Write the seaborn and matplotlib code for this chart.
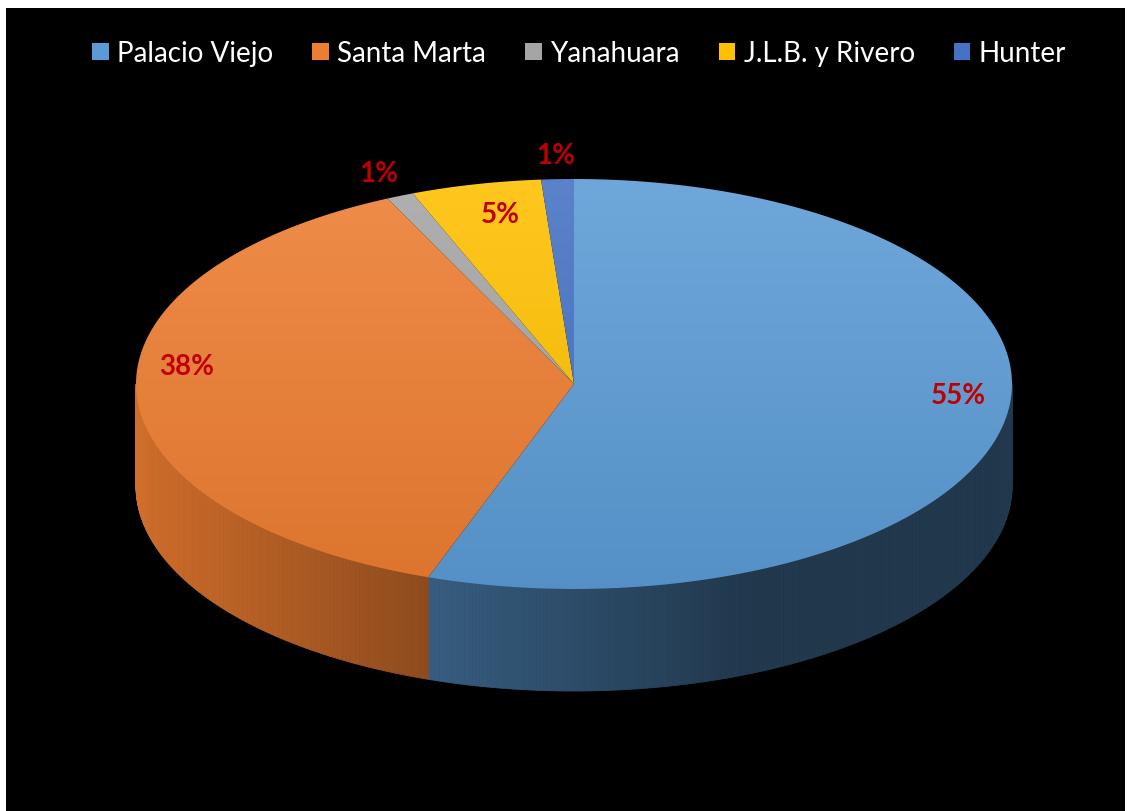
import numpy as np
import matplotlib
matplotlib.use("Agg")
import matplotlib.pyplot as plt
from matplotlib.patches import Polygon, Patch
import seaborn as sns

# Datos
distritos = ['Palacio Viejo', 'Santa Marta', 'Yanahuara', 'J.L.B. y Rivero', 'Hunter']
porcentajes = [55.4, 37.6, 1.0, 4.8, 1.2]
colores = ['#5B9BD5', '#ED7D31', '#A5A5A5', '#FFC000', '#4472C4']

sns.set_style("dark")
plt.rcParams['font.family'] = ['Lato', 'DejaVu Sans']
paleta = sns.color_palette(colores)

fig = plt.figure(figsize=(11.29, 8.12), dpi=100, facecolor='white')
ax = fig.add_axes([6 / 1129, 0, 1119 / 1129, 803 / 812])
ax.set_facecolor('black')
ax.set_xlim(6, 1125)
ax.set_ylim(812, 9)
ax.set_axis_off()
ax.add_patch(plt.Rectangle((6, 9), 1119, 803, color='black', zorder=0))

# geometria del pastel 3D
cx, cy, a, b, prof = 574, 385, 438, 205, 102


def punto(t, dy=0):
    t = np.radians(t)
    return cx + a * np.sin(t), cy - b * np.cos(t) + dy


def mezcla(c, f):
    c = np.array(c)
    if f >= 0:
        return c + (1 - c) * f
    return c * (1 + f)


total = sum(porcentajes)
angulos = np.concatenate([[0], np.cumsum(porcentajes) / total * 360])

# paredes laterales (solo la mitad frontal)
for i, col in enumerate(paleta):
    t0, t1 = max(angulos[i], 90), min(angulos[i + 1], 270)
    if t1 <= t0:
        continue
    ts = np.linspace(t0, t1, int((t1 - t0) * 2) + 2)
    for ta, tb in zip(ts[:-1], ts[1:]):
        u = np.sin(np.radians((ta + tb) / 2))
        f = np.interp(u, [-1, -0.33, 0.4, 1], [0.88, 0.6, 0.36, 0.36])
        c = np.array(col) * f
        xa, ya = punto(ta)
        xb, yb = punto(tb)
        quad = [(xa, ya), (xb, yb), (xb, yb + prof), (xa, ya + prof)]
        ax.add_patch(Polygon(quad, facecolor=c, edgecolor=c, lw=0.6, zorder=2))

# cara superior con degradado
for i, col in enumerate(paleta):
    ts = np.linspace(angulos[i], angulos[i + 1], 200)
    pts = [(cx, cy)] + [punto(t) for t in ts]
    poly = Polygon(pts, facecolor='none', edgecolor='none', zorder=3)
    ax.add_patch(poly)
    arriba, abajo = mezcla(col, 0.12), mezcla(col, -0.07)
    g = np.linspace(0, 1, 256)[:, None]
    img = (arriba[None, :] * (1 - g) + abajo[None, :] * g)[:, None, :]
    im = ax.imshow(img, extent=(cx - a, cx + a, cy + b, cy - b), origin='upper',
                   aspect='auto', zorder=3, interpolation='bilinear')
    im.set_clip_path(poly)

# etiquetas
radios = [0.89, 0.885, 1.12, 0.75, 1.12]
desplaz = [-20, -27, 0, -20, 0]
for i, p in enumerate(porcentajes):
    tm = (angulos[i] + angulos[i + 1]) / 2
    x, y = punto(tm)
    x = cx + (x - cx) * radios[i]
    y = cy + (y - cy) * radios[i] + desplaz[i]
    ax.text(x, y, f"{round(p)}%", color='#C00000', fontsize=20, fontweight='bold',
            ha='center', va='center', zorder=5)

ax.set_xlim(6, 1125)
ax.set_ylim(812, 9)

handles = [Patch(facecolor=c, edgecolor='none') for c in paleta]
fig.legend(handles, distritos, loc='center', bbox_to_anchor=(0.513, 0.933), ncol=5,
           frameon=False, fontsize=20, labelcolor='white', handlelength=0.6,
           handleheight=0.6, handletextpad=0.3, columnspacing=1.4)

plt.savefig("out.png", dpi=100, facecolor='white')
print("Grafico pastel 3D hecho")
